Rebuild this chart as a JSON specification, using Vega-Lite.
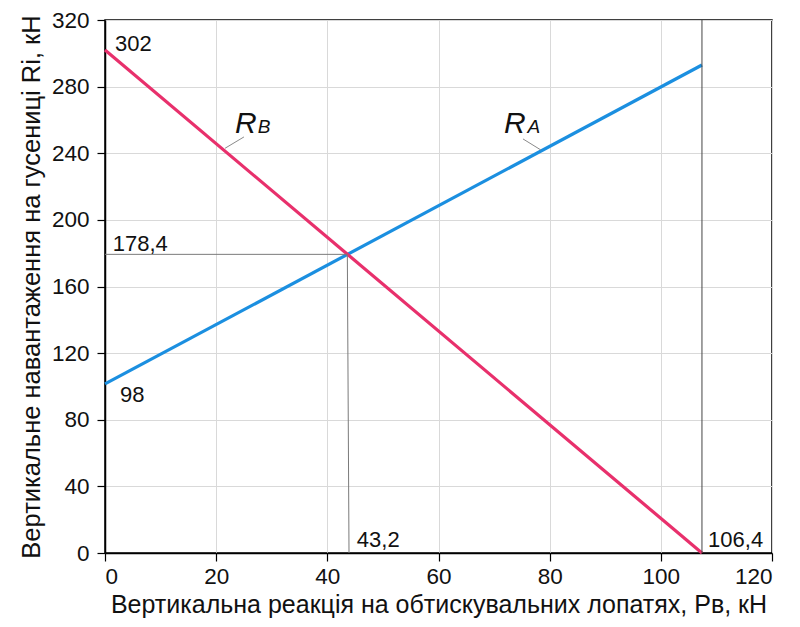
{
  "$schema": "https://vega.github.io/schema/vega-lite/v6.json",
  "width": 667,
  "height": 533,
  "autosize": "none",
  "padding": {"left": 105, "top": 20, "right": 28, "bottom": 74},
  "background": "white",
  "config": {
    "font": "Liberation Sans",
    "view": {"stroke": "#000000", "strokeWidth": 1.5},
    "axis": {
      "labelFont": "Liberation Sans",
      "titleFont": "Liberation Sans",
      "labelFontSize": 22.5,
      "titleFontSize": 25,
      "titleFontWeight": "normal",
      "labelColor": "#111111",
      "titleColor": "#111111",
      "domainColor": "#000000",
      "domainWidth": 1.5,
      "tickColor": "#000000",
      "tickWidth": 1.2,
      "tickSize": 8,
      "gridColor": "#d9d9d9",
      "gridWidth": 1
    }
  },
  "layer": [
    {
      "data": {"values": [
        {"series": "RA", "x": 0, "y": 101.5},
        {"series": "RA", "x": 107.4, "y": 293},
        {"series": "RB", "x": 0, "y": 302},
        {"series": "RB", "x": 107.4, "y": 0}
      ]},
      "mark": {"type": "line", "strokeWidth": 3.2, "clip": false},
      "encoding": {
        "x": {"field": "x", "type": "quantitative", "scale": {"domain": [0, 120], "nice": false},
          "axis": {"values": [0, 20, 40, 60, 80, 100, 120], "title": "Вертикальна реакція на обтискувальних лопатях, Рв, кН", "labelPadding": 4, "titlePadding": 5}},
        "y": {"field": "y", "type": "quantitative", "scale": {"domain": [0, 320], "nice": false},
          "axis": {"values": [0, 40, 80, 120, 160, 200, 240, 280, 320], "title": "Вертикальне навантаження на гусениці Ri, кН", "titleFontSize": 25.5, "labelPadding": 8, "titlePadding": 7}},
        "color": {"field": "series", "type": "nominal", "scale": {"domain": ["RA", "RB"], "range": ["#1b8fe0", "#e8306c"]}, "legend": null},
        "detail": {"field": "series"}
      }
    },
    {
      "data": {"values": [
        {"x": 0, "y": 179.3, "x2": 43.6, "y2": 179.3, "c": "g"},
        {"x": 43.6, "y": 179.3, "x2": 43.9, "y2": 0, "c": "g"},
        {"x": 107.4, "y": 0, "x2": 107.4, "y2": 320, "c": "d"},
        {"x": 21.6, "y": 243, "x2": 25.0, "y2": 249.8, "c": "l"},
        {"x": 75.2, "y": 248.6, "x2": 78.4, "y2": 242, "c": "l"}
      ]},
      "mark": {"type": "rule", "strokeWidth": 1},
      "encoding": {
        "x": {"field": "x", "type": "quantitative"},
        "y": {"field": "y", "type": "quantitative"},
        "x2": {"field": "x2"},
        "y2": {"field": "y2"},
        "stroke": {"field": "c", "type": "nominal", "scale": {"domain": ["g", "d", "l"], "range": ["#7a7a7a", "#444444", "#8a8a8a"]}, "legend": null}
      }
    },
    {
      "data": {"values": [
        {"x": 1.8, "y": 301.4, "t": "302"},
        {"x": 2.7, "y": 90.7, "t": "98"},
        {"x": 1.4, "y": 181.3, "t": "178,4"},
        {"x": 45.3, "y": 3.6, "t": "43,2"},
        {"x": 108.5, "y": 3.6, "t": "106,4"}
      ]},
      "mark": {"type": "text", "align": "left", "baseline": "alphabetic", "fontSize": 22, "color": "#111111", "font": "Liberation Sans"},
      "encoding": {
        "x": {"field": "x", "type": "quantitative"},
        "y": {"field": "y", "type": "quantitative"},
        "text": {"field": "t"}
      }
    },
    {
      "data": {"values": [
        {"x": 23.4, "y": 252.2, "t": "R"},
        {"x": 71.8, "y": 252.2, "t": "R"}
      ]},
      "mark": {"type": "text", "align": "left", "baseline": "alphabetic", "fontSize": 30, "fontStyle": "italic", "color": "#111111", "font": "Liberation Sans"},
      "encoding": {
        "x": {"field": "x", "type": "quantitative"},
        "y": {"field": "y", "type": "quantitative"},
        "text": {"field": "t"}
      }
    },
    {
      "data": {"values": [
        {"x": 27.5, "y": 252.2, "t": "B"},
        {"x": 76.0, "y": 252.2, "t": "A"}
      ]},
      "mark": {"type": "text", "align": "left", "baseline": "alphabetic", "fontSize": 19, "fontStyle": "italic", "color": "#111111", "font": "Liberation Sans"},
      "encoding": {
        "x": {"field": "x", "type": "quantitative"},
        "y": {"field": "y", "type": "quantitative"},
        "text": {"field": "t"}
      }
    }
  ]
}
